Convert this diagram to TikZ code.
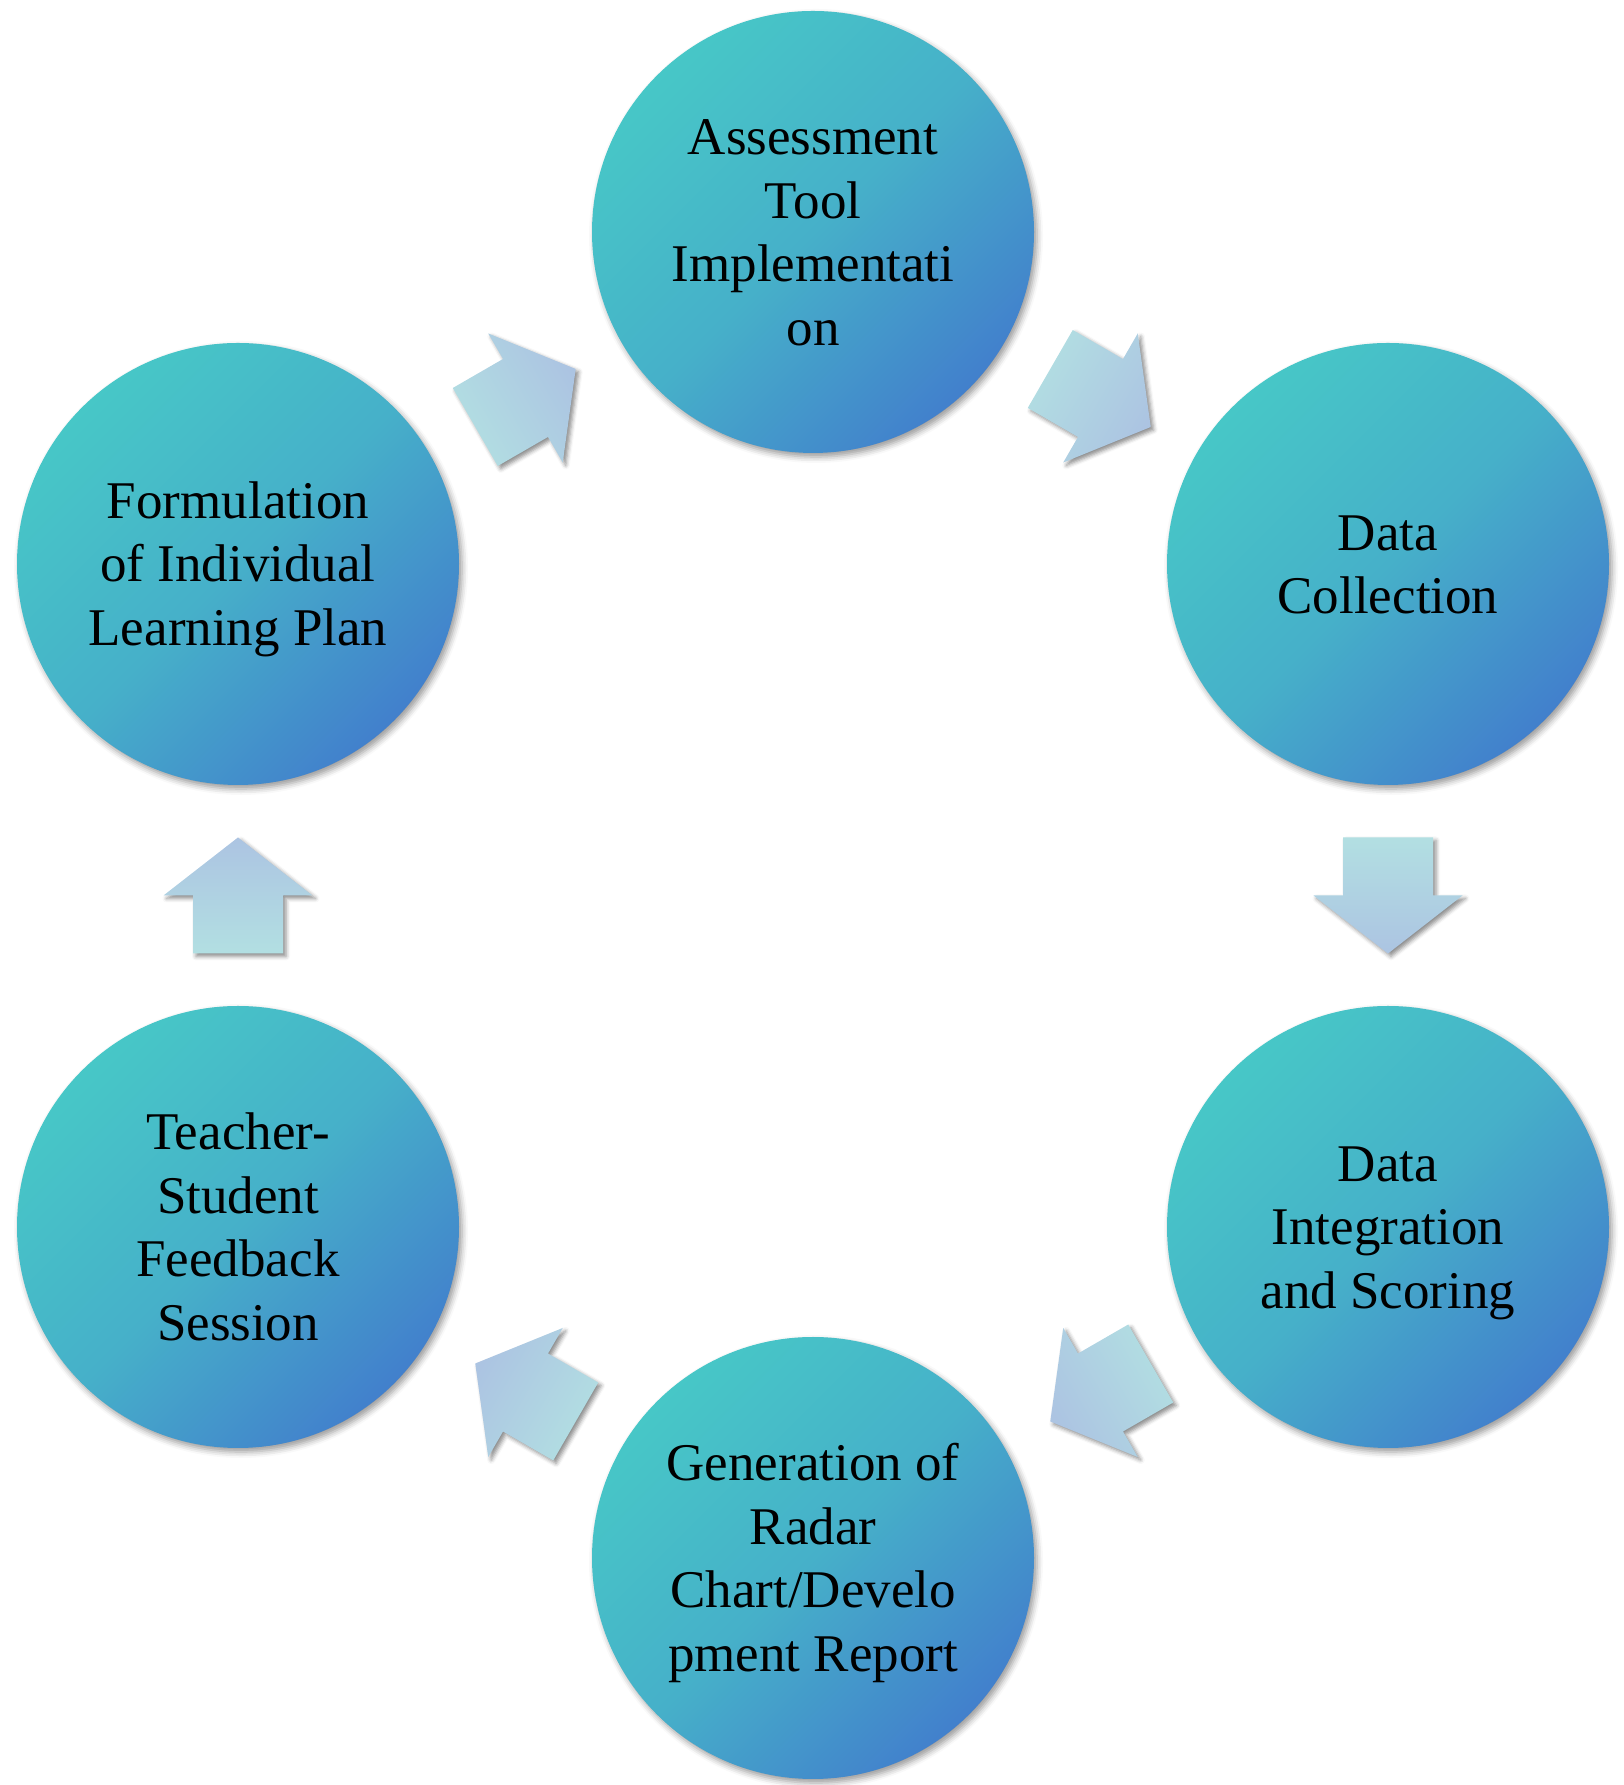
\documentclass[tikz,border=0pt]{standalone}
\usepackage{fontspec}
\setmainfont{Liberation Serif}
\usetikzlibrary{calc,shadows.blur}
\definecolor{circA}{RGB}{71,199,199}
\definecolor{circM}{RGB}{70,176,201}
\definecolor{circB}{RGB}{66,128,204}
\definecolor{arrTail}{RGB}{178,223,226}
\definecolor{arrHead}{RGB}{172,196,226}
\newcommand\sstrut{\rule[-0.216em]{0pt}{1.107em}}
\tikzset{
  stage/.style={circle, minimum size=442pt, inner sep=0pt,
    top color=circA, bottom color=circB, middle color=circM, shading angle=45,
    blur shadow={shadow xshift=3pt, shadow yshift=-4pt, shadow blur radius=6pt, shadow opacity=40},
    align=center, font=\fontsize{53}{63.5}\selectfont, text=black},
  arrowfill/.style={top color=arrHead, bottom color=arrTail,
    blur shadow={shadow xshift=3pt, shadow yshift=-3pt, shadow blur radius=4pt, shadow opacity=45}},
  pics/blockarr/.style={code={
    \pgfmathsetmacro\shang{#1-90}
    \path[arrowfill, shading angle=\shang, rotate=#1]
      (-58,-45) -- (0,-45) -- (0,-74.5) -- (58,0) -- (0,74.5) -- (0,45) -- (-58,45) -- cycle;
  }}
}
\begin{document}
\begin{tikzpicture}[x=1pt,y=1pt]
\useasboundingbox (0,0) rectangle (1623,1785);
\node[stage] (top) at (813,1553) {\sstrut Assessment\\Tool\\Implementati\\on\sstrut};
\node[stage] (rt) at (1388,1221) {\sstrut Data\\Collection\sstrut};
\node[stage] (rb) at (1388,558) {\sstrut Data\\Integration\\and Scoring\sstrut};
\node[stage] (bot) at (813,227) {\sstrut Generation of\\Radar\\Chart/Develo\\pment Report\sstrut};
\node[stage] (lb) at (238,558) {\sstrut Teacher-\\Student\\Feedback\\Session\sstrut};
\node[stage] (lt) at (238,1221) {\sstrut Formulation\\of Individual\\Learning Plan\sstrut};
\pic at ($(top)!0.5!(rt)$) {blockarr=-30};
\pic at ($(rt)!0.5!(rb)$) {blockarr=-90};
\pic at ($(rb)!0.5!(bot)$) {blockarr=-150};
\pic at ($(bot)!0.5!(lb)$) {blockarr=150};
\pic at ($(lb)!0.5!(lt)$) {blockarr=90};
\pic at ($(lt)!0.5!(top)$) {blockarr=30};
\end{tikzpicture}
\end{document}
